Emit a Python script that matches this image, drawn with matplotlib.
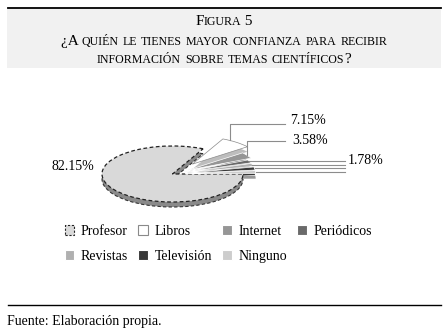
import numpy as np
import matplotlib.pyplot as plt
from matplotlib.patches import Rectangle

plt.rcParams['font.family'] = ['Liberation Serif', 'DejaVu Serif']

# ---------------------------------------------------------------------------
# Data
# ---------------------------------------------------------------------------
labels = ['Profesor', 'Libros', 'Internet', 'Periódicos', 'Revistas', 'Televisión', 'Ninguno']
values = [82.15, 7.15, 3.58, 1.78, 1.78, 1.78, 1.78]
colors = ['#d9d9d9', '#ffffff', '#969696', '#6a6a6a', '#b0b0b0', '#383838', '#cdcdcd']
shade = ['#8a8a8a', '#bdbdbd', '#6e6e6e', '#4a4a4a', '#8a8a8a', '#2a2a2a', '#9a9a9a']
explode = [0.0, 0.45, 0.25, 0.18, 0.18, 0.18, 0.18]

title_lines = ['Figura 5',
               '¿A quién le tienes mayor confianza para recibir',
               'información sobre temas científicos?']
source = 'Fuente: Elaboración propia.'

W, H = 447, 332
fig = plt.figure(figsize=(W / 100, H / 100), dpi=100)
fig.patch.set_facecolor('white')

# pie centre and ellipse radii (pixels)
CX, CY, RX, RY = 172.5, 174, 70.5, 28
DEPTH = 5 / RY

ax = fig.add_axes([0, 0, 1, 1])


def dx(px):
    return (px - CX) / RX


def dy(py):
    return (CY - py) / RY


# depth (side) of the tilted pie
side, _ = ax.pie(values, colors=shade, explode=explode, startangle=0, counterclock=False,
                 center=(0, -DEPTH), wedgeprops=dict(linewidth=0))
side[0].set_edgecolor('#333333')
side[0].set_linestyle((0, (3, 2)))
side[0].set_linewidth(0.8)

wedges, _ = ax.pie(values, colors=colors, explode=explode, startangle=0, counterclock=False,
                   wedgeprops=dict(linewidth=0.5, edgecolor='white'))
wedges[0].set_edgecolor('#222222')
wedges[0].set_linestyle((0, (3, 2)))
wedges[0].set_linewidth(0.9)
wedges[1].set_edgecolor('#8a8a8a')

ax.set_aspect('auto')
ax.set_xlim(dx(0), dx(W))
ax.set_ylim(dy(H), dy(0))
ax.axis('off')


def outer_point(w, frac):
    t = np.deg2rad(w.theta1 + frac * (w.theta2 - w.theta1))
    cx, cy = w.center
    return cx + w.r * np.cos(t), cy + w.r * np.sin(t)


line_kw = dict(color='#8c8c8c', lw=0.8, clip_on=False)

# 82.15% label
ax.text(dx(94), dy(167), f'{values[0]:.2f}%', ha='right', va='center', fontsize=10)

# Libros: up then right
x0, y0 = outer_point(wedges[1], 0.75)
ax.plot([x0, x0, dx(285)], [y0, dy(124), dy(124)], **line_kw)
ax.text(dx(290), dy(120), f'{values[1]:.2f}%', ha='left', va='center', fontsize=10)

# Internet: up then right
x0, y0 = outer_point(wedges[2], 0.5)
ax.plot([x0, x0, dx(285)], [y0, dy(141), dy(141)], **line_kw)
ax.text(dx(292), dy(141), f'{values[2]:.2f}%', ha='left', va='center', fontsize=10)

# small slices: horizontal leaders to a shared label
for w in wedges[3:]:
    x0, y0 = outer_point(w, 0.5)
    ax.plot([x0, dx(345)], [y0, y0], **line_kw)
ax.text(dx(348), dy(161), f'{values[3]:.2f}%', ha='left', va='center', fontsize=10)

# ---------------------------------------------------------------------------
# Legend (two rows, four columns)
# ---------------------------------------------------------------------------
order = [0, 4, 1, 5, 2, 6, 3]
leg = fig.legend([wedges[i] for i in order], [labels[i] for i in order],
                 ncol=4, loc='upper left', bbox_to_anchor=(55 / W, 1 - 215 / H),
                 frameon=False, fontsize=10, handlelength=0.7, handleheight=0.7,
                 handletextpad=0.45, columnspacing=0.75, labelspacing=0.85,
                 borderpad=0.2)
for h in leg.legend_handles:
    h.set_linewidth(0.8)
leg.legend_handles[0].set_linestyle((0, (2, 1.5)))

# ---------------------------------------------------------------------------
# Title box with small caps
# ---------------------------------------------------------------------------
fig.patches.append(Rectangle((7 / W, 1 - 68 / H), 434 / W, 60 / H, transform=fig.transFigure,
                             facecolor='#f1f1f1', edgecolor='none', zorder=0))
fig.add_artist(plt.Line2D([8 / W, 441 / W], [1 - 8 / H, 1 - 8 / H], color='black', lw=1.3))

renderer = fig.canvas.get_renderer()


def small_caps(text, y_px, big=11, small=8.6):
    parts = []
    for ch in text:
        size = small if ch.islower() else big
        if parts and parts[-1][1] == size:
            parts[-1][0] += ch.upper()
        else:
            parts.append([ch.upper(), size])
    arts = [fig.text(0, 1 - y_px / H, s, fontsize=sz, va='baseline', ha='left') for s, sz in parts]
    widths = [a.get_window_extent(renderer).width for a in arts]
    x = (224 - sum(widths) / 2) / W
    for a, wd in zip(arts, widths):
        a.set_x(x)
        x += wd / W


small_caps(title_lines[0], 25)
small_caps(title_lines[1], 45)
small_caps(title_lines[2], 63)

# ---------------------------------------------------------------------------
# Footer
# ---------------------------------------------------------------------------
fig.add_artist(plt.Line2D([8 / W, 441 / W], [1 - 305 / H, 1 - 305 / H], color='black', lw=1.0))
fig.text(7 / W, 1 - 322 / H, source, fontsize=10, va='center', ha='left')

fig.savefig('out.png', dpi=100)
